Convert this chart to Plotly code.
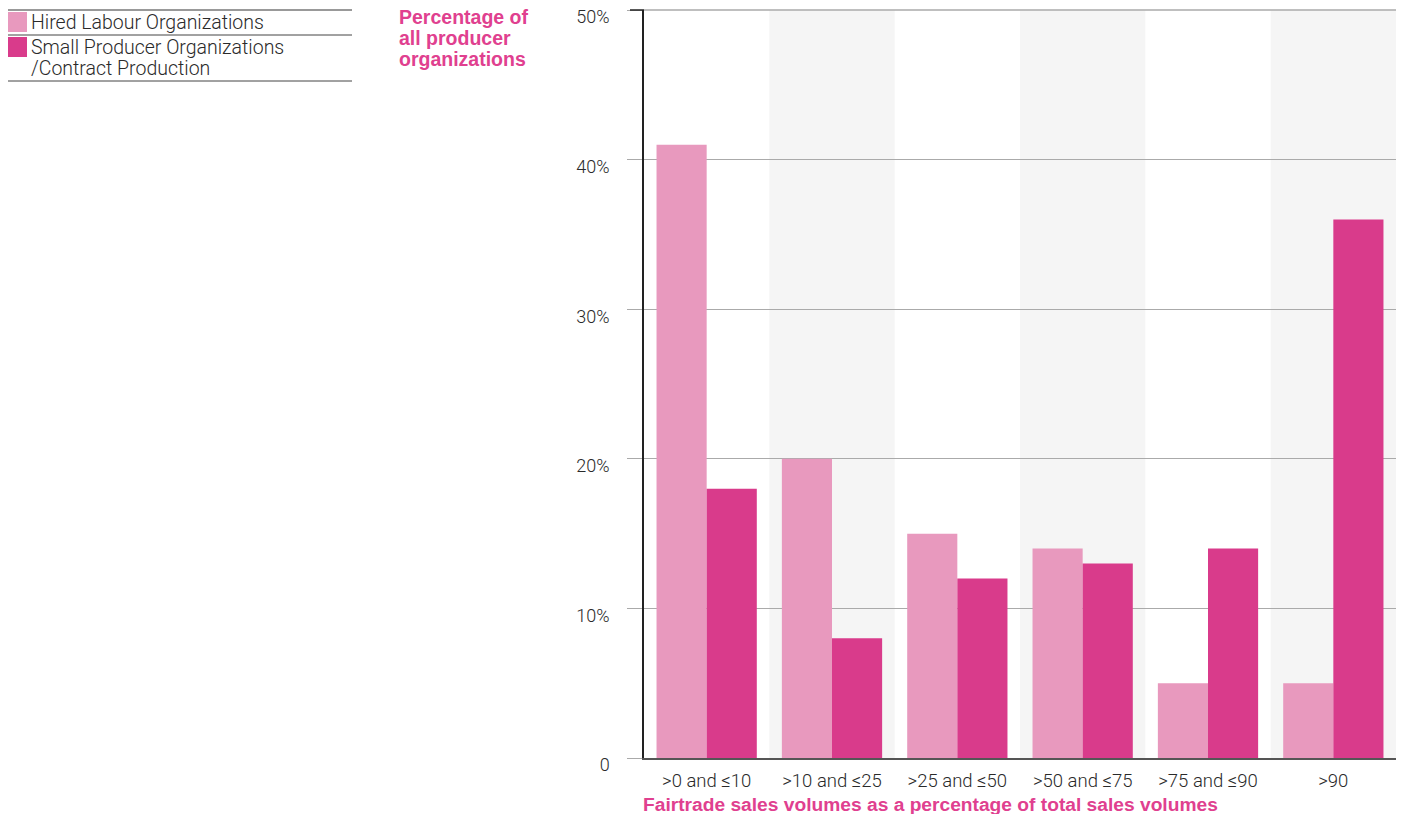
import plotly.graph_objects as go

categories = [">0 and ≤10", ">10 and ≤25", ">25 and ≤50", ">50 and ≤75", ">75 and ≤90", ">90"]
hired_labour = [41, 20, 15, 14, 5, 5]
small_producer = [18, 8, 12, 13, 14, 36]
series_names = ["Hired Labour Organizations", "Small Producer Organizations<br>/Contract Production"]
y_tickvals = [0, 10, 20, 30, 40, 50]
y_ticktext = ["0", "10%", "20%", "30%", "40%", "50%"]
y_title_lines = ["Percentage of", "all producer", "organizations"]
x_title = "Fairtrade sales volumes as a percentage of total sales volumes"

LIGHT = "#E899BE"
DARK = "#D93B8B"
TITLE = "#E0408F"
TEXT = "#2a2a2a"

W, H = 1402, 814
L, R, T, B = 644, 6, 10, 56
PW, PH = W - L - R, H - T - B


def px(x):
    return (x - L) / PW


def py(y):
    return (H - B - y) / PH


fig = go.Figure()
fig.add_trace(go.Bar(x=categories, y=hired_labour, name=series_names[0].replace("<br>", " "),
                     marker_color=LIGHT, marker_line_width=0))
fig.add_trace(go.Bar(x=categories, y=small_producer, name=series_names[1].replace("<br>", " "),
                     marker_color=DARK, marker_line_width=0))

shapes = []
# alternating shaded bands
for i in range(1, len(categories), 2):
    shapes.append(dict(type="rect", xref="x", yref="paper", x0=i - 0.5, x1=i + 0.5, y0=0, y1=1,
                       fillcolor="#F5F5F5", line_width=0, layer="below"))
# top gridline and dark top tick
shapes.append(dict(type="line", xref="paper", yref="paper", x0=0, x1=1, y0=1, y1=1,
                   line=dict(color="#AAAAAA", width=1.5), layer="below"))
shapes.append(dict(type="line", xref="paper", yref="paper", x0=px(630), x1=0, y0=1, y1=1,
                   line=dict(color="#222", width=1.5)))
# legend lines
shapes.append(dict(type="line", xref="paper", yref="paper", x0=px(8), x1=px(352), y0=py(10), y1=py(10),
                   line=dict(color="#999", width=2)))
shapes.append(dict(type="line", xref="paper", yref="paper", x0=px(8), x1=px(352), y0=py(35), y1=py(35),
                   line=dict(color="#444", width=1)))
shapes.append(dict(type="line", xref="paper", yref="paper", x0=px(8), x1=px(352), y0=py(81), y1=py(81),
                   line=dict(color="#444", width=1)))
# legend swatches
shapes.append(dict(type="rect", xref="paper", yref="paper", x0=px(8), x1=px(27), y0=py(32), y1=py(12),
                   fillcolor=LIGHT, line_width=0))
shapes.append(dict(type="rect", xref="paper", yref="paper", x0=px(8), x1=px(27), y0=py(57), y1=py(37),
                   fillcolor=DARK, line_width=0))

legend_font = dict(family="Roboto", size=19.5, color=TEXT, weight=300)
annotations = []
legend_lines = [(series_names[0], 23)]
second = series_names[1].split("<br>")
legend_lines += [(second[0], 48), (second[1], 69)]
for txt, yc in legend_lines:
    annotations.append(dict(text=txt, xref="paper", yref="paper", x=px(29), y=py(yc), xanchor="left",
                            yanchor="middle", showarrow=False, align="left", font=legend_font))

for txt, yc in zip(y_title_lines, [17, 38, 59]):
    annotations.append(dict(text="<b>" + txt + "</b>", xref="paper", yref="paper", x=px(397), y=py(yc),
                            xanchor="left", yanchor="middle", showarrow=False, align="left",
                            font=dict(family="Liberation Sans", size=19.5, color=TITLE)))

annotations.append(dict(text="<b>" + x_title + "</b>", xref="paper", yref="paper",
                        x=px(641), y=py(804), xanchor="left", yanchor="middle", showarrow=False, align="left",
                        font=dict(family="Liberation Sans", size=19.2, color=TITLE)))

fig.update_layout(
    width=W, height=H,
    margin=dict(l=L, r=R, t=T, b=B, pad=0),
    paper_bgcolor="white", plot_bgcolor="white",
    barmode="group", bargap=0.2, bargroupgap=0,
    showlegend=False,
    shapes=shapes, annotations=annotations,
    font=dict(family="Roboto", color=TEXT),
)
fig.update_xaxes(
    showgrid=False, showline=True, linecolor="#555", linewidth=2, ticks="",
    tickfont=dict(family="Roboto", size=18.5, color=TEXT, weight=300),
    ticklabelstandoff=5,
)
fig.update_yaxes(
    range=[0, 50.01], tickvals=y_tickvals, ticktext=y_ticktext,
    showgrid=True, gridcolor="#AAAAAA", gridwidth=1,
    showline=True, linecolor="#222", linewidth=1.5,
    ticks="outside", ticklen=15, tickcolor="#AAAAAA", tickwidth=1,
    tickfont=dict(family="Roboto", size=18, color=TEXT, weight=300),
    ticklabelstandoff=14, ticklabelshift=7,
    zeroline=False,
)

fig.write_html("out.html", config={"displayModeBar": False},
               post_script="document.body.style.margin='0';")
